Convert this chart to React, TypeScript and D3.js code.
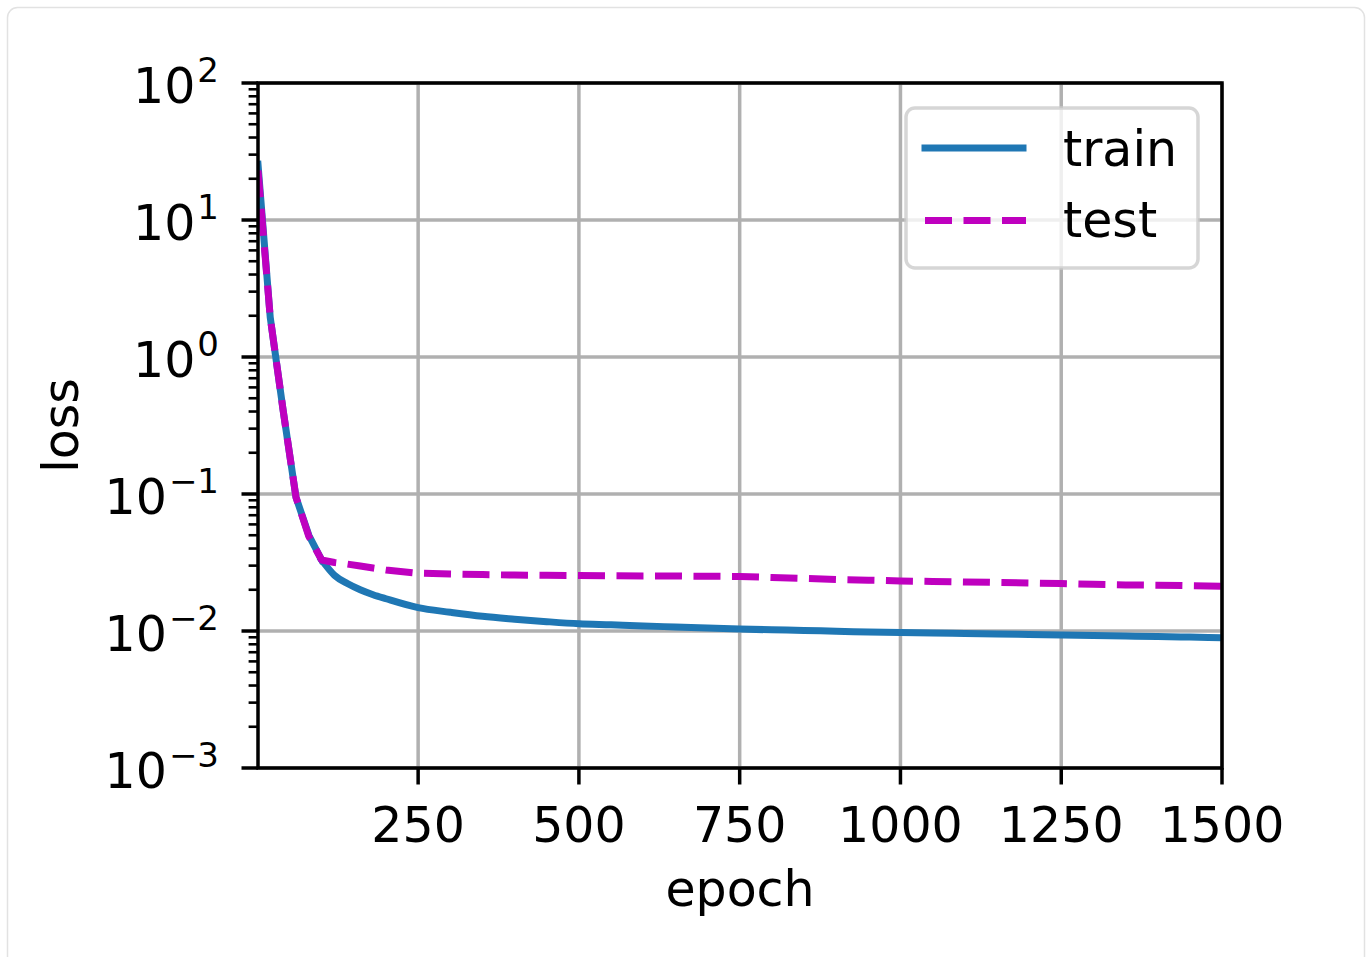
import React from "react";
import * as d3 from "d3";

const trainEpochs = [1, 20, 40, 60, 80, 100, 120, 140, 160, 180, 200, 250, 300, 350, 400, 450, 500, 550, 600, 650, 700, 750, 800, 850, 900, 950, 1000, 1050, 1100, 1150, 1200, 1250, 1300, 1350, 1400, 1450, 1500];
const trainLoss = [25.5, 1.95, 0.41, 0.095, 0.05, 0.033, 0.0255, 0.0222, 0.0200, 0.0184, 0.0172, 0.0148, 0.0137, 0.0128, 0.0122, 0.0117, 0.0113, 0.0111, 0.01088, 0.0107, 0.01051, 0.01034, 0.0102, 0.0101, 0.00995, 0.00984, 0.00975, 0.00967, 0.0096, 0.00951, 0.00943, 0.00935, 0.00929, 0.0092, 0.00911, 0.00903, 0.00894];
const testLoss = [23, 1.95, 0.41, 0.095, 0.049, 0.033, 0.0316, 0.0308, 0.0298, 0.0288, 0.0279, 0.0264, 0.0261, 0.0258, 0.0256, 0.0255, 0.0254, 0.0253, 0.0252, 0.0252, 0.0251, 0.025, 0.0246, 0.0242, 0.0238, 0.0235, 0.0232, 0.023, 0.0228, 0.0226, 0.0224, 0.0222, 0.0219, 0.0217, 0.0216, 0.0214, 0.0212];

const xTicks = [250, 500, 750, 1000, 1250, 1500];
const yExponents = [2, 1, 0, -1, -2, -3];
const seriesNames = ["train", "test"];

const W = 1366;
const H = 957;
const left = 258, right = 1222, top = 83, bottom = 768;
const FONT = "DejaVu Sans, sans-serif";
const FS = 49;
const SUP = 34;

export default function App() {
  const x = d3.scaleLinear().domain([1, 1500]).range([left, right]);
  const y = d3.scaleLog().domain([1e-3, 1e2]).range([bottom, top]);

  const line = d3
    .line<[number, number]>()
    .x((d) => x(d[0]))
    .y((d) => y(d[1]));
  const smooth = d3
    .line<[number, number]>()
    .x((d) => x(d[0]))
    .y((d) => y(d[1]))
    .curve(d3.curveMonotoneX);

  const trainPts: [number, number][] = trainEpochs.map((e, i) => [e, trainLoss[i]]);
  const testPts: [number, number][] = trainEpochs.map((e, i) => [e, testLoss[i]]);

  const minorTicks: number[] = [];
  for (let k = -3; k < 2; k++) {
    for (let m = 2; m <= 9; m++) minorTicks.push(m * Math.pow(10, k));
  }

  const blue = "#1f77b4";
  const magenta = "#bf00bf";
  const grid = "#b0b0b0";
  const lw = 7;
  const axLw = 3.5;

  return (
    <svg
      width={W}
      height={H}
      style={{ position: "fixed", left: 0, top: 0, background: "#fff" }}
      fontFamily={FONT}
    >
      <rect x={0} y={0} width={W} height={H} fill="#fff" />
      <rect x={7.5} y={7.5} width={1357} height={1000} rx={10} fill="#fff" stroke="#e2e2e2" strokeWidth={1.5} />

      <defs>
        <clipPath id="plotclip">
          <rect x={left} y={top} width={right - left} height={bottom - top} />
        </clipPath>
      </defs>

      {/* grid */}
      {xTicks.map((t) => (
        <line key={"gx" + t} x1={x(t)} x2={x(t)} y1={top} y2={bottom} stroke={grid} strokeWidth={axLw} />
      ))}
      {yExponents.map((e) => (
        <line key={"gy" + e} x1={left} x2={right} y1={y(Math.pow(10, e))} y2={y(Math.pow(10, e))} stroke={grid} strokeWidth={axLw} />
      ))}

      {/* data lines */}
      <g clipPath="url(#plotclip)">
        <path d={smooth(trainPts.slice(5)) || ""} fill="none" stroke={blue} strokeWidth={lw} strokeLinejoin="round" strokeLinecap="square" />
        <path d={line(trainPts.slice(0, 6)) || ""} fill="none" stroke={blue} strokeWidth={lw} strokeLinejoin="round" strokeLinecap="square" />
        <path d={line(testPts) || ""} fill="none" stroke={magenta} strokeWidth={lw} strokeLinejoin="round" strokeLinecap="butt" strokeDasharray="27 11.5" />
      </g>

      {/* spines */}
      <rect x={left} y={top} width={right - left} height={bottom - top} fill="none" stroke="#000" strokeWidth={axLw} />

      {/* x ticks */}
      {xTicks.map((t) => (
        <g key={"xt" + t}>
          <line x1={x(t)} x2={x(t)} y1={bottom} y2={bottom + 16.5} stroke="#000" strokeWidth={axLw} />
          <text x={x(t)} y={842} textAnchor="middle" fontSize={FS} fill="#000">
            {t}
          </text>
        </g>
      ))}

      {/* y ticks */}
      {yExponents.map((e) => (
        <g key={"yt" + e}>
          <line x1={left - 16.5} x2={left} y1={y(Math.pow(10, e))} y2={y(Math.pow(10, e))} stroke="#000" strokeWidth={axLw} />
          <text x={219} y={y(Math.pow(10, e)) + 19.5} textAnchor="end" fontSize={FS} fill="#000">
            10
            <tspan dx={2} dy={-20.5} fontSize={SUP}>
              {e < 0 ? "\u2212" + Math.abs(e) : String(e)}
            </tspan>
          </text>
        </g>
      ))}
      {minorTicks.map((v, i) => (
        <line key={"mt" + i} x1={left - 9.4} x2={left} y1={y(v)} y2={y(v)} stroke="#000" strokeWidth={2.6} />
      ))}

      {/* axis labels */}
      <text x={(left + right) / 2} y={906} textAnchor="middle" fontSize={FS} fill="#000">
        epoch
      </text>
      <text transform={`translate(78, ${(top + bottom) / 2}) rotate(-90)`} textAnchor="middle" fontSize={FS} fill="#000">
        loss
      </text>

      {/* legend */}
      <rect x={906} y={108} width={292} height={160} rx={9} fill="#fff" fillOpacity={0.8} stroke="#cccccc" strokeOpacity={0.8} strokeWidth={3.5} />
      <line x1={925} x2={1023} y1={148} y2={148} stroke={blue} strokeWidth={lw} strokeLinecap="square" />
      <line x1={925} x2={1026} y1={220.5} y2={220.5} stroke={magenta} strokeWidth={lw} strokeDasharray="27 11.5" />
      <text x={1063} y={166} fontSize={FS} fill="#000">
        {seriesNames[0]}
      </text>
      <text x={1063} y={237} fontSize={FS} fill="#000">
        {seriesNames[1]}
      </text>
    </svg>
  );
}
